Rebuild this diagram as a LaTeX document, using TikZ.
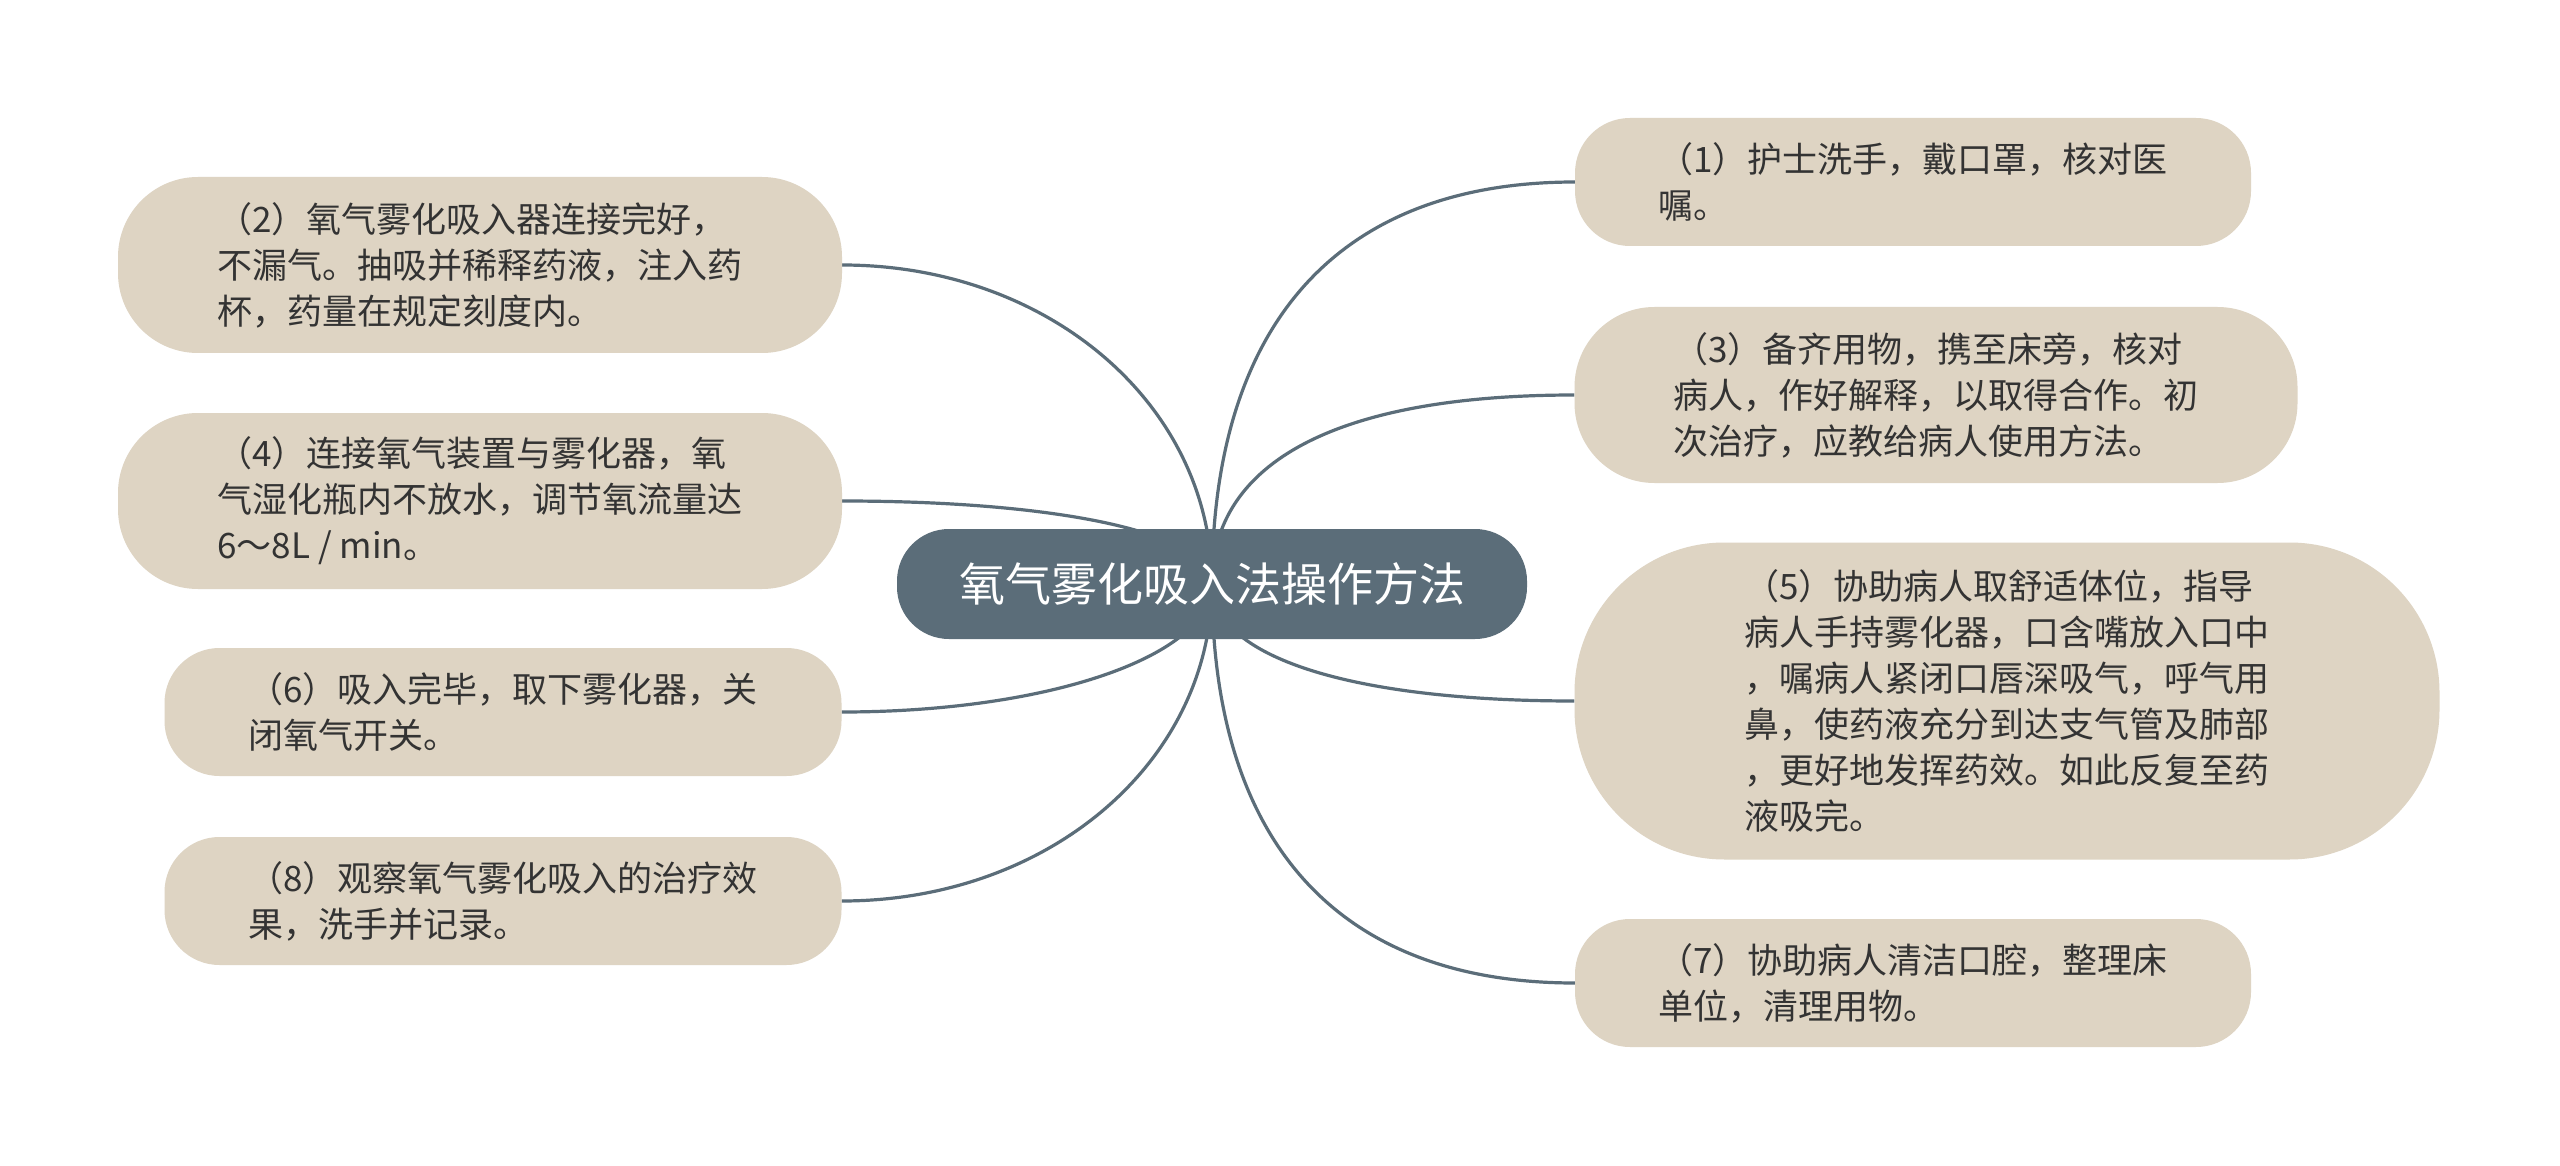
\documentclass[tikz,border=0pt]{standalone}
\usepackage{fontspec}
\setmainfont{Noto Sans CJK SC}
\usetikzlibrary{backgrounds,calc}
\definecolor{boxfill}{HTML}{DED4C3}
\definecolor{hub}{HTML}{5B6D79}
\definecolor{txt}{HTML}{333333}
\begin{document}
\begin{tikzpicture}[x=1pt,y=-1pt,
  leaf/.style={fill=boxfill, inner sep=0pt, align=left, text=txt, font=\fontsize{35}{46}\selectfont},
  small/.style={leaf, minimum height=128pt, rounded corners=55pt},
  big/.style={leaf, minimum height=176pt, rounded corners=80pt},
  hubnode/.style={fill=hub, text=white, rounded corners=52pt, minimum width=630pt, minimum height=110pt, inner sep=0pt, font=\fontsize{46}{56}\selectfont},
  link/.style={draw=hub, line width=3.2pt}]
\useasboundingbox (0,0) rectangle (2560,1166);

\node[hubnode] (hub) at (1212,584) {氧气雾化吸入法操作方法};

\node[small, minimum width=676pt] (n1) at (1913,182) {（1）护士洗手，戴口罩，核对医\\嘱。};
\node[big, minimum width=723pt] (n3) at (1936,395) {（3）备齐用物，携至床旁，核对\\病人，作好解释，以取得合作。初\\次治疗，应教给病人使用方法。};
\node[leaf, minimum width=865pt, minimum height=317pt, rounded corners=150pt] (n5) at (2007,701) {（5）协助病人取舒适体位，指导\\病人手持雾化器，口含嘴放入口中\\，嘱病人紧闭口唇深吸气，呼气用\\鼻，使药液充分到达支气管及肺部\\，更好地发挥药效。如此反复至药\\液吸完。};
\node[small, minimum width=676pt] (n7) at (1913,983) {（7）协助病人清洁口腔，整理床\\单位，清理用物。};

\node[big, minimum width=724pt] (n2) at (480,265) {（2）氧气雾化吸入器连接完好，\\不漏气。抽吸并稀释药液，注入药\\杯，药量在规定刻度内。};
\node[big, minimum width=724pt] (n4) at (480,501) {（4）连接氧气装置与雾化器，氧\\气湿化瓶内不放水，调节氧流量达\\6～8L / min。};
\node[small, minimum width=677pt] (n6) at (503,712) {（6）吸入完毕，取下雾化器，关\\闭氧气开关。};
\node[small, minimum width=677pt] (n8) at (503,901) {（8）观察氧气雾化吸入的治疗效\\果，洗手并记录。};

\begin{pgfonlayer}{background}
\fill[white] (0,0) rectangle (2560,1166);
\foreach \n/\a/\p/\q in {n1/west/0.65/0.35,n3/west/0.65/0.35,n5/west/0.62/0.38,n7/west/0.65/0.35,n2/east/0.56/0.44,n4/east/0.6/0.4,n6/east/0.56/0.44,n8/east/0.56/0.44}{
  \draw[link] (hub.center) .. controls ($(hub.center)!\p!(hub.center |- \n.\a)$) and ($(hub.center |- \n.\a)!\q!(\n.\a)$) .. (\n.\a);
}
\end{pgfonlayer}
\end{tikzpicture}
\end{document}
